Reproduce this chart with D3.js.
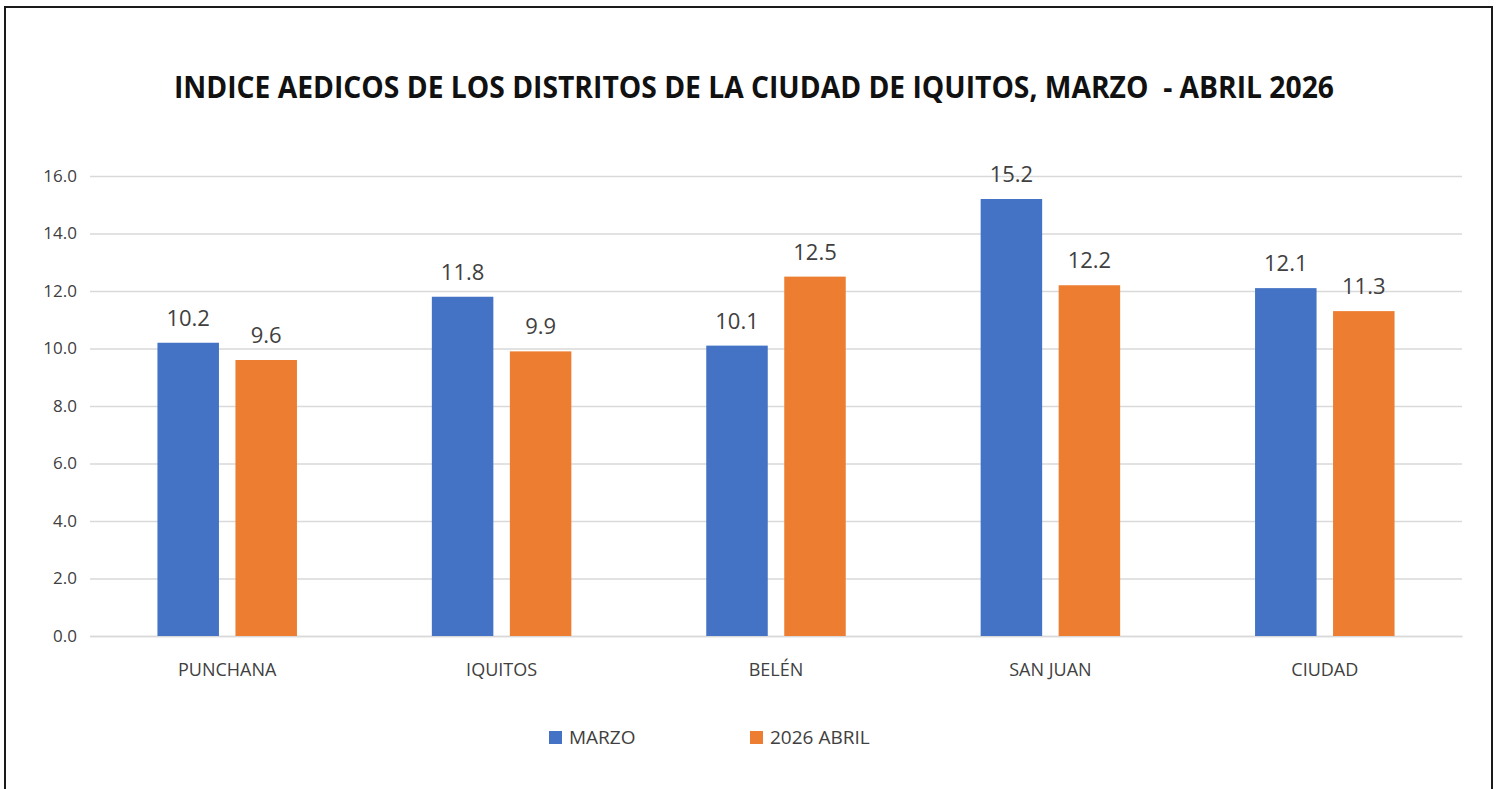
<!DOCTYPE html>
<html lang="es">
<head>
<meta charset="UTF-8">
<title>Indice Aedicos Iquitos</title>
<script src="https://d3js.org/d3.v7.min.js"></script>
<style>
  html, body { margin: 0; padding: 0; background: #fff; }
  svg { display: block; font-family: "Open Sans", sans-serif; }
</style>
</head>
<body>
<svg id="chart" width="1501" height="789"></svg>
<script>
// data
var distritos = ["PUNCHANA", "IQUITOS", "BELÉN", "SAN JUAN", "CIUDAD"];
var series = ["MARZO", "2026 ABRIL"];
var marzo = [10.2, 11.8, 10.1, 15.2, 12.1];
var abril = [9.6, 9.9, 12.5, 12.2, 11.3];
var yTicks = [0, 2, 4, 6, 8, 10, 12, 14, 16];
var colors = ["#4472C4", "#ED7D31"];

var svg = d3.select("#chart");

// outer frame
svg.append("rect")
    .attr("x", 5).attr("y", 7)
    .attr("width", 1487).attr("height", 800)
    .attr("fill", "none")
    .attr("stroke", "#1a1a1a")
    .attr("stroke-width", 2);

// title
svg.append("text")
    .attr("x", 754).attr("y", 98)
    .attr("text-anchor", "middle")
    .attr("textLength", 1160)
    .attr("lengthAdjust", "spacingAndGlyphs")
    .style("white-space", "pre")
    .style("font-size", "31px")
    .style("font-weight", "bold")
    .style("fill", "#111")
    .text("INDICE AEDICOS DE LOS DISTRITOS DE LA CIUDAD DE IQUITOS, MARZO  - ABRIL 2026");

var margin = { left: 90, right: 1462, top: 176, bottom: 636 };

var x = d3.scaleBand()
    .domain(distritos)
    .range([margin.left, margin.right]);

var y = d3.scaleLinear()
    .domain([0, 16])
    .range([margin.bottom, margin.top]);

var barW = 61.5, gap = 16.5;
var x1 = d3.scaleOrdinal()
    .domain(series)
    .range([-(barW + gap / 2), gap / 2]);

// gridlines + y labels
var yAxis = d3.axisLeft(y)
    .tickValues(yTicks)
    .tickFormat(d3.format(".1f"))
    .tickSize(-(margin.right - margin.left))
    .tickPadding(13);

var gy = svg.append("g")
    .attr("transform", "translate(" + margin.left + ",0)")
    .call(yAxis)
    .attr("font-family", null);
gy.select(".domain").remove();
gy.selectAll(".tick line").attr("stroke", "#d9d9d9").attr("stroke-width", 1.5);
gy.selectAll(".tick text")
    .style("font-size", "17px")
    .style("fill", "#404040");

// x axis labels
var xAxis = d3.axisBottom(x).tickSize(0).tickPadding(27);
var gx = svg.append("g")
    .attr("transform", "translate(0," + margin.bottom + ")")
    .call(xAxis)
    .attr("font-family", null);
gx.select(".domain").attr("stroke", "#d9d9d9").attr("stroke-width", 1.5);
gx.selectAll(".tick text")
    .style("font-size", "18px")
    .style("fill", "#404040");

// bars
var rows = distritos.map(function(d, i) {
    return [{ cat: d, s: series[0], v: marzo[i] }, { cat: d, s: series[1], v: abril[i] }];
});

var groups = svg.selectAll(".grp")
    .data(rows)
    .enter().append("g")
    .attr("class", "grp")
    .attr("transform", function(d) {
        return "translate(" + (x(d[0].cat) + x.bandwidth() / 2) + ",0)";
    });

groups.selectAll("rect")
    .data(function(d) { return d; })
    .enter().append("rect")
    .attr("x", function(d) { return x1(d.s); })
    .attr("y", function(d) { return y(d.v); })
    .attr("width", barW)
    .attr("height", function(d) { return y(0) - y(d.v); })
    .attr("fill", function(d, i) { return colors[i]; });

groups.selectAll("text")
    .data(function(d) { return d; })
    .enter().append("text")
    .attr("x", function(d) { return x1(d.s) + barW / 2; })
    .attr("y", function(d) { return y(d.v) - 17; })
    .attr("text-anchor", "middle")
    .style("font-size", "22px")
    .style("fill", "#404040")
    .text(function(d) { return d3.format(".1f")(d.v); });

// legend
var legendX = [549, 750];
var legend = svg.selectAll(".leg")
    .data(series)
    .enter().append("g")
    .attr("class", "leg")
    .attr("transform", function(d, i) { return "translate(" + legendX[i] + ",731)"; });

legend.append("rect")
    .attr("width", 13).attr("height", 13)
    .attr("fill", function(d, i) { return colors[i]; });

legend.append("text")
    .attr("x", 20).attr("y", 13)
    .style("font-size", "19px")
    .style("fill", "#404040")
    .text(function(d) { return d; });
</script>
</body>
</html>
